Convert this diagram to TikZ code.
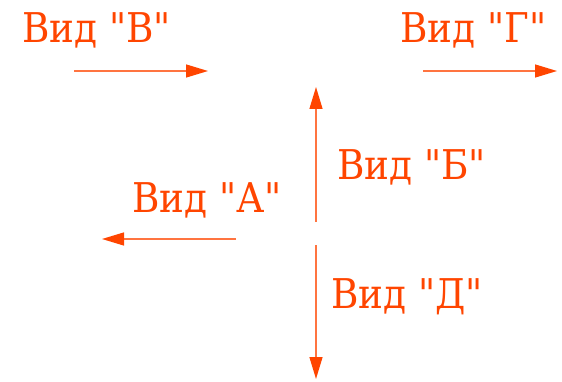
\documentclass[tikz,border=0pt]{standalone}
\usepackage{fontspec}
\setmainfont{DejaVu Serif}[FakeStretch=0.91, Ligatures=TeXOff]
\usetikzlibrary{arrows.meta}
\definecolor{vidred}{HTML}{FF4500}
\tikzset{
  lbl/.style={anchor=base west, inner sep=0pt, text=vidred, font=\fontsize{41}{41}\selectfont},
  arr/.style={draw=vidred!75, line width=1.3pt, -{Triangle[length=22pt, width=13pt, fill=vidred, color=vidred]}},
}
\begin{document}
\begin{tikzpicture}[x=1pt, y=-1pt]
\useasboundingbox (0,0) rectangle (562,382);
\node[lbl] (tv) at (22,43) {Вид "В"};
\node[lbl] (tg) at (400,43) {Вид "Г"};
\node[lbl] (tb) at (337,180) {Вид "Б"};
\node[lbl] (ta) at (132,213) {Вид "А"};
\node[lbl] (td) at (331,308) {Вид "Д"};
\coordinate (v0) at (74,71); \coordinate (v1) at (208,71);
\coordinate (g0) at (423,71); \coordinate (g1) at (557,71);
\coordinate (b0) at (316,222); \coordinate (b1) at (316,87);
\coordinate (a0) at (236,239); \coordinate (a1) at (102,239);
\coordinate (d0) at (316,245); \coordinate (d1) at (316,379);
\draw[arr] (v0) -- (v1);
\draw[arr] (g0) -- (g1);
\draw[arr] (b0) -- (b1);
\draw[arr] (a0) -- (a1);
\draw[arr] (d0) -- (d1);
\end{tikzpicture}
\end{document}
